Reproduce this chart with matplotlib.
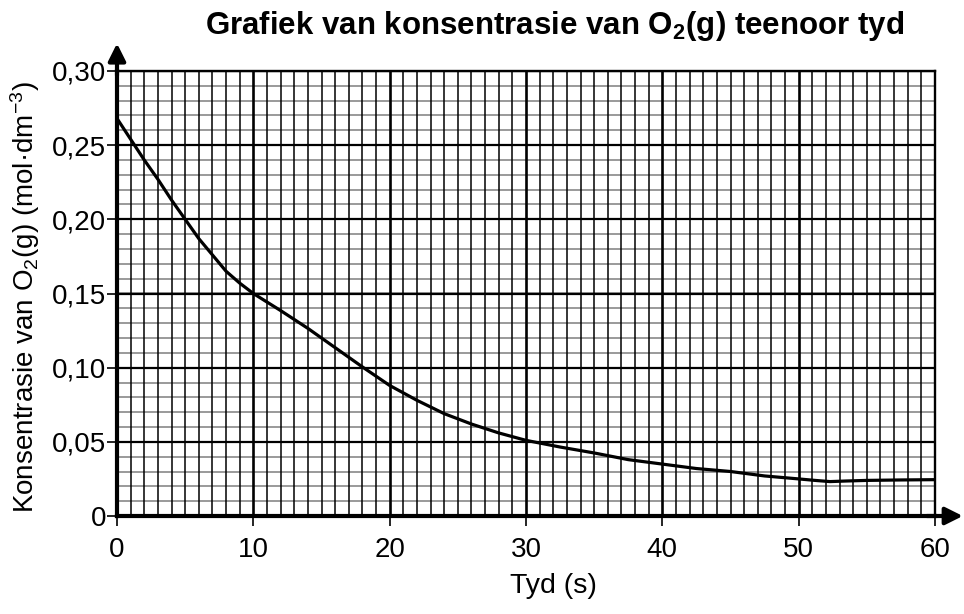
import numpy as np
import matplotlib
matplotlib.use("Agg")
import matplotlib.pyplot as plt
from matplotlib.ticker import MultipleLocator

plt.rcParams["font.family"] = ["Liberation Sans", "DejaVu Sans"]
plt.rcParams["mathtext.fontset"] = "custom"
plt.rcParams["mathtext.rm"] = "Liberation Sans"
plt.rcParams["mathtext.it"] = "Liberation Sans"
plt.rcParams["mathtext.bf"] = "Liberation Sans:bold"

# values
time_s = [0, 1, 2, 3, 4, 5, 6, 7, 8, 9, 10, 12, 14, 16, 18, 20, 22, 24, 26,
          28, 30, 32.5, 35, 37.5, 40, 42.5, 45, 47.5, 50, 51.2, 52.3, 53.5,
          55, 57.5, 60]
conc = [0.268, 0.254, 0.240, 0.227, 0.213, 0.200, 0.187, 0.176, 0.165,
        0.157, 0.150, 0.1385, 0.1265, 0.1135, 0.1005, 0.088, 0.078, 0.069,
        0.062, 0.056, 0.051, 0.0465, 0.0425, 0.038, 0.035, 0.032, 0.030,
        0.027, 0.025, 0.024, 0.0232, 0.0236, 0.024, 0.0243, 0.0245]

x_ticks = [0, 10, 20, 30, 40, 50, 60]
y_ticks = [0, 0.05, 0.10, 0.15, 0.20, 0.25, 0.30]
y_labels = ["0", "0,05", "0,10", "0,15", "0,20", "0,25", "0,30"]

fig = plt.figure(figsize=(9.64, 6.14), dpi=100)
ax = fig.add_axes([117 / 964, 98 / 614, 818 / 964, 445 / 614])

ax.set_xlim(0, 60)
ax.set_ylim(0, 0.30)
ax.set_xticks(x_ticks)
ax.set_yticks(y_ticks)
ax.set_yticklabels(y_labels)
ax.xaxis.set_minor_locator(MultipleLocator(1))

# grey horizontal rules under the black vertical ones
ax.hlines(np.arange(0.01, 0.30, 0.01), 0, 60, color="#9a9a9a", lw=1.4, zorder=0.3)
ax.grid(which="minor", axis="x", color="black", lw=1.1)
ax.grid(which="major", axis="y", color="black", lw=1.6)
ax.grid(which="major", axis="x", color="black", lw=1.9)
ax.set_axisbelow(True)

ax.plot(time_s, conc, color="black", lw=2.3, zorder=3)

for side in ["left", "bottom"]:
    ax.spines[side].set_linewidth(3.0)
for side in ["top", "right"]:
    ax.spines[side].set_linewidth(1.7)

ax.tick_params(which="minor", length=0)
ax.tick_params(which="major", direction="out", width=1.2, labelsize=20)
ax.tick_params(axis="x", length=7, pad=8)
ax.tick_params(axis="y", length=7, pad=1)

# axis arrows
ax.annotate("", xy=(0, 1.062), xytext=(0, 0.99), xycoords="axes fraction",
            annotation_clip=False,
            arrowprops=dict(arrowstyle="-|>", lw=3, color="black",
                            mutation_scale=26, shrinkA=0, shrinkB=0))
ax.annotate("", xy=(1.034, 0), xytext=(0.99, 0), xycoords="axes fraction",
            annotation_clip=False,
            arrowprops=dict(arrowstyle="-|>", lw=3, color="black",
                            mutation_scale=26, shrinkA=0, shrinkB=0))

ax.set_xlabel("Tyd (s)", fontsize=20.5)
ax.xaxis.set_label_coords(0.533, -0.128)
ax.set_ylabel(r"Konsentrasie van O$_2$(g) (mol·dm$^{-3}$)", fontsize=20)
ax.yaxis.set_label_coords(-0.092, 0.491)

fig.text(555 / 964, 1 - 34 / 614, r"Grafiek van konsentrasie van O$\mathbf{_2}$(g) teenoor tyd",
         ha="center", va="baseline", fontsize=22.5, fontweight="bold")

fig.savefig("out.png", dpi=100)
